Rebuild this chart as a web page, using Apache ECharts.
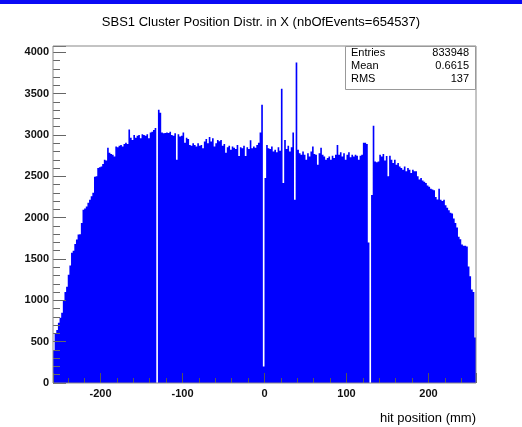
<!DOCTYPE html>
<html>
<head>
<meta charset="utf-8">
<script src="https://cdn.jsdelivr.net/npm/echarts@6/dist/echarts.min.js"></script>
<style>
html,body{margin:0;padding:0;background:#fff;}
#c{width:522px;height:427px;}
</style>
</head>
<body>
<div id="c"></div>
<script>
// Histogram: SBS1 cluster position in X, 2 mm bins from -258 to 258
var binStart = -258;
var binWidth = 2;
var counts = [
  390, 600, 640, 730, 790, 850, 1000, 1100, 1165, 1310,
  1420, 1575, 1600, 1680, 1735, 1795, 1800, 1935, 2095, 2110,
  2135, 2180, 2215, 2260, 2300, 2495, 2500, 2600, 2610, 2620,
  2650, 2700, 2690, 2845, 2785, 2770, 2760, 2740, 2860, 2850,
  2870, 2880, 2860, 2890, 2905, 2890, 3065, 2965, 2940, 3000,
  2965, 2990, 3000, 2960, 3010, 3000, 2990, 3010, 2960, 3030,
  3040, 3060, 3085, 0, 3305, 3270, 3030, 3020, 3025, 3030,
  3025, 3040, 3000, 2990, 3020, 2700, 3010, 2980, 2990, 3030,
  2905, 2965, 2950, 2880, 2870, 2900, 2880, 2860, 2900, 2870,
  2880, 2840, 2920, 2950, 2900, 2975, 2920, 2960, 2860, 2900,
  2940, 2925, 2940, 2870, 2890, 2785, 2850, 2870, 2820, 2860,
  2845, 2830, 2880, 2745, 2850, 2840, 2870, 2745, 2850, 2830,
  2935, 2840, 2860, 2845, 2880, 2905, 3030, 3365, 200, 2480,
  2880, 2840, 2830, 2860, 2800, 2820, 2790, 2850, 2810, 3560,
  2420, 2940, 2830, 2870, 2800, 2850, 3030, 2215, 3877, 2820,
  2780, 2760, 2800, 2760, 2700, 2780, 2740, 2800, 2860, 2770,
  2760, 2640, 2780, 2845, 2760, 2740, 2700, 2720, 2740, 2700,
  2750, 2720, 2760, 2880, 2760, 2790, 2740, 2780, 2700, 2760,
  2790, 2730, 2760, 2740, 2760, 2750, 2700, 2750, 2760, 2905,
  2905, 2890, 1700, 0, 2275, 3110, 2680, 2670, 2680, 2760,
  2740, 2770, 2690, 2745, 2500, 2750, 2700, 2660, 2700, 2640,
  2660, 2620, 2600, 2580, 2620, 2560, 2600, 2580, 2540, 2580,
  2560, 2560, 2500, 2460, 2480, 2450, 2435, 2420, 2390, 2375,
  2350, 2340, 2330, 2250, 2220, 2350, 2215, 2200, 2215, 2150,
  2120, 2090, 2060, 2050, 1990, 1935, 1880, 1770, 1740, 1675,
  1660, 1660, 1650, 1410, 1290, 1130, 1100, 550
];
var xMin = -258, xMax = 258;
var yMax = 4076;
var titleText = 'SBS1 Cluster Position Distr. in X (nbOfEvents=654537)';
var xTitle = 'hit position (mm)';
var statsLabels = ['Entries', 'Mean', 'RMS'];
var statsValues = ['833948', '0.6615', '137'];

var bins = [];
for (var i = 0; i < counts.length; i++) {
  bins.push([binStart + i * binWidth, binStart + (i + 1) * binWidth, counts[i]]);
}

var FONT = 'Liberation Sans, Arial, Helvetica, sans-serif';
var chart = echarts.init(document.getElementById('c'), null, {renderer: 'canvas'});

var statsGraphics = [
  {type: 'rect', shape: {x: 345.5, y: 46.5, width: 130, height: 43},
   style: {fill: '#fff', stroke: '#999', lineWidth: 1}, z: 100}
];
for (var s = 0; s < statsLabels.length; s++) {
  statsGraphics.push({type: 'text', left: 351, top: 47 + s * 13, z: 101,
    style: {text: statsLabels[s], fill: '#000', font: '11px ' + FONT}});
  statsGraphics.push({type: 'text', right: 522 - 469, top: 47 + s * 13, z: 101,
    style: {text: statsValues[s], fill: '#000', font: '11px ' + FONT}});
}

function plain(v) { return String(v); }

chart.setOption({
  animation: false,
  backgroundColor: '#fff',
  title: {
    text: titleText, left: 'center', top: 11,
    textStyle: {fontSize: 13, fontWeight: 'normal', color: '#000', fontFamily: FONT}
  },
  grid: {
    left: 53, right: 46, top: 46, bottom: 44,
    show: true, borderColor: '#888', borderWidth: 1, backgroundColor: 'transparent', z: 6
  },
  xAxis: {
    type: 'value', min: xMin, max: xMax, z: 5,
    axisLine: {show: false, onZero: false},
    axisTick: {show: true, inside: true, length: 10, lineStyle: {color: '#555'}},
    minorTick: {show: true, splitNumber: 5, length: 5, lineStyle: {color: '#555'}},
    splitLine: {show: false},
    axisLabel: {
      show: true, showMinLabel: false, showMaxLabel: false, margin: 5,
      color: '#111', fontSize: 11, fontWeight: 'bold', fontFamily: FONT, formatter: plain
    }
  },
  yAxis: {
    type: 'value', min: 0, max: yMax, interval: 500, z: 5,
    axisLine: {show: false, onZero: false},
    axisTick: {show: true, inside: true, length: 13, lineStyle: {color: '#666'}},
    minorTick: {show: true, splitNumber: 5, length: 7, lineStyle: {color: '#666'}},
    splitLine: {show: false},
    axisLabel: {
      show: true, showMaxLabel: false, margin: 4,
      color: '#111', fontSize: 11, fontWeight: 'bold', fontFamily: FONT, formatter: plain
    }
  },
  series: [{
    type: 'custom', data: bins, silent: true, z: 2,
    encode: {x: [0, 1], y: 2},
    renderItem: function (params, api) {
      // whole histogram outline as one filled polygon (no seams between bins)
      if (params.dataIndex !== 0) return null;
      var pts = [api.coord([bins[0][0], 0])];
      for (var k = 0; k < bins.length; k++) {
        pts.push(api.coord([bins[k][0], bins[k][2]]));
        pts.push(api.coord([bins[k][1], bins[k][2]]));
      }
      pts.push(api.coord([bins[bins.length - 1][1], 0]));
      return {type: 'polygon', shape: {points: pts}, style: {fill: '#0000ff'}};
    }
  }],
  graphic: [
    {type: 'rect', shape: {x: 0, y: 0, width: 522, height: 4}, style: {fill: '#0a0af5'}, z: 100},
    {type: 'text', right: 522 - 476, top: 412, z: 100,
     style: {text: xTitle, fill: '#000', font: '13px ' + FONT}}
  ].concat(statsGraphics)
});
</script>
</body>
</html>
